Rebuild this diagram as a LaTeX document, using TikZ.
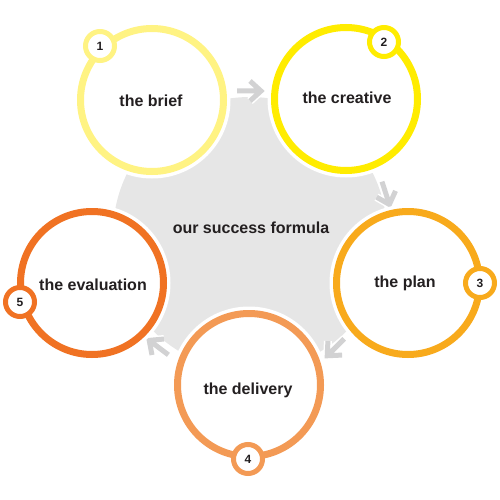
\documentclass[tikz,border=0pt]{standalone}
\usepackage{fontspec}
\setmainfont{Liberation Sans}
\definecolor{cA}{HTML}{FFF383}
\definecolor{cB}{HTML}{FFEC00}
\definecolor{cC}{HTML}{F8AA1C}
\definecolor{cD}{HTML}{F39A55}
\definecolor{cE}{HTML}{F07223}
\definecolor{bgc}{HTML}{E6E6E6}
\definecolor{arr}{HTML}{D2D2D3}
\definecolor{txt}{HTML}{231F20}
\begin{document}
\begin{tikzpicture}[x=1pt,y=-1pt,
  ring/.style={circle, draw=#1, line width=7pt, fill=white, minimum size=143pt, inner sep=0pt},
  halo/.style={circle, fill=white, minimum size=157pt, inner sep=0pt},
  badge/.style={circle, draw=#1, line width=5pt, fill=white, minimum size=29pt, inner sep=0pt,
    font=\fontsize{12}{12}\selectfont\bfseries, text=txt},
  lbl/.style={font=\fontsize{16}{18}\selectfont\bfseries, text=txt, inner sep=0pt},
  chev/.style={draw=arr, line width=5pt, miter limit=10},
  chevhalo/.style={draw=white, line width=8pt}
]
\useasboundingbox (0,0) rectangle (500,500);
% background disk
\fill[bgc] (250,234) circle (137);
\node[lbl] (title) at (251,228) {our success formula};
% arrows
\foreach \px/\py/\ang [count=\i] in {250/91/0, 386/194/-72, 335/348/-135, 158/347/143}{
  \begin{scope}[shift={(\px,\py)}, rotate=\ang]
    \coordinate (a\i s) at (-13,0);
    \coordinate (a\i e) at (11,0);
    \draw[chevhalo] (a\i s) -- (a\i e) (0,-10) -- (a\i e) -- (0,10);
    \draw[chev] (a\i s) -- (a\i e) (0,-10) -- (a\i e) -- (0,10);
  \end{scope}
}
% halos
\node[halo] (h1) at (152,100) {};
\node[halo] (h2) at (346,99) {};
\node[halo] (h3) at (408,283) {};
\node[halo] (h4) at (249,385) {};
\node[halo] (h5) at (92,283) {};
% rings
\node[ring=cA] (brief) at (152,100) {};
\node[ring=cB] (creative) at (346,99) {};
\node[ring=cC] (plan) at (408,283) {};
\node[ring=cD] (delivery) at (249,385) {};
\node[ring=cE] (evaluation) at (92,283) {};
% labels
\node[lbl] (t1) at (151,101) {the brief};
\node[lbl] (t2) at (347,98) {the creative};
\node[lbl] (t3) at (405,283) {the plan};
\node[lbl] (t4) at (248,390) {the delivery};
\node[lbl] (t5) at (93,285) {the evaluation};
% badges
\node[badge=cA] (b1) at (100,46) {1};
\node[badge=cB] (b2) at (384,42) {2};
\node[badge=cC] (b3) at (480,283) {3};
\node[badge=cD] (b4) at (248,459) {4};
\node[badge=cE] (b5) at (20,302) {5};
\end{tikzpicture}
\end{document}
